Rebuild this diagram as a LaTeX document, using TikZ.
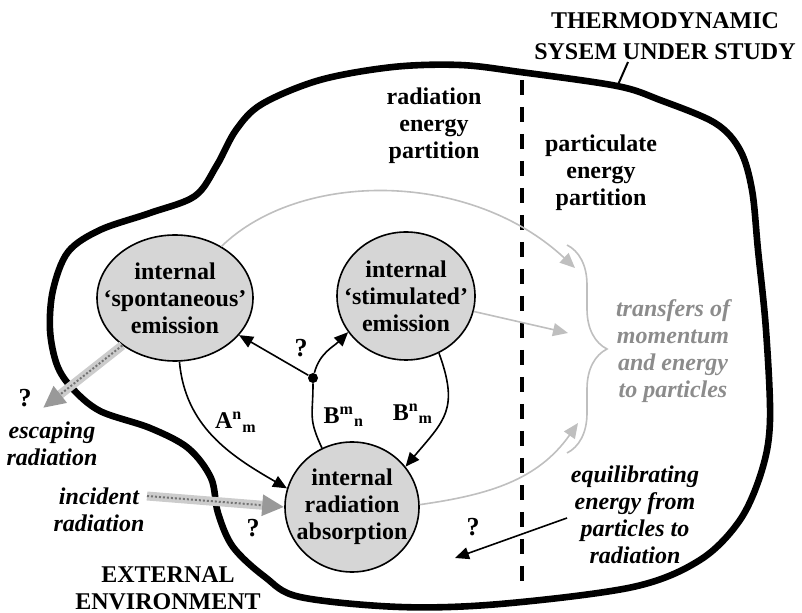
\documentclass[tikz,border=0pt]{standalone}
\usepackage{fontspec}
\setmainfont{Liberation Serif}
\usetikzlibrary{shapes.geometric, positioning, arrows.meta, decorations.pathreplacing}
\tikzset{every node/.style={font=\bfseries\fontsize{12}{13.5}\selectfont, align=center},
  proc/.style={ellipse, draw, thick, fill=black!16, inner sep=0pt},
  blk/.style={-{Triangle[length=7pt,width=6pt]}, line width=0.8pt},
  every edge/.style={draw, blk},
  soft/.style={draw=black!25, line width=0.8pt, -{Triangle[length=7.5pt,width=6.5pt,color=black!25]}},
  fat/.style={line width=4.5pt, draw=black!20, -{Triangle[length=11pt,width=10pt,color=black!40]}},
  fatcore/.style={densely dotted, draw=black!55, line width=1pt, shorten >=11pt},
  note/.style={font=\bfseries\itshape\fontsize{12}{13.5}\selectfont},
  qm/.style={font=\bfseries\fontsize{13}{13}\selectfont}}

\begin{document}
\begin{tikzpicture}[x=0.5pt, y=-0.5pt]
\useasboundingbox (0,0) rectangle (802,613);
% system boundary
\draw[line width=3.3pt, line join=round] plot[smooth cycle, tension=0.55] coordinates {(460,65) (393,67) (320,80) (262,104) (236,130) (217,165) (195,196) (150,213) (100,230) (68,252) (53,290) (50,330) (57,365) (72,388) (100,411) (150,428) (188,448) (211,478) (218,513) (233,547) (265,577) (300,597) (400,607) (500,604) (633,587) (700,560) (740,520) (762,470) (770,420) (766,330) (758,250) (752,190) (740,150) (715,123) (660,100) (617,86) (520,72)};
\node[font=\bfseries\fontsize{12}{15.5}\selectfont] (sys) at (665,36) {THERMODYNAMIC\\SYSEM UNDER STUDY};
\coordinate (lead1) at (628,62);
\coordinate (lead2) at (617,87);
\draw[line width=1pt] (lead1) -- (lead2);
\coordinate (ptop) at (522,80);
\coordinate (pbot) at (522,592);
\draw[line width=1.8pt, dash pattern=on 7.5pt off 6pt] (ptop) -- (pbot);

\node (radpart) at (434,126) {radiation\\energy\\partition};
\node (parpart) at (601,173) {particulate\\energy\\partition};

\node[proc, minimum width=78pt, minimum height=63pt] (spont) at (175,298) {};
\node (spontlbl) at (spont) {internal\\‘spontaneous’\\emission};
\node[proc, minimum width=69pt, minimum height=64pt] (stim) at (406,296) {};
\node (stimlbl) at (stim) {internal\\‘stimulated’\\emission};
\node[proc, minimum width=67pt, minimum height=65pt] (absorb) at (352,507) {};
\node (absorblbl) at (absorb) {internal\\radiation\\absorption};
\node[circle, fill, inner sep=0pt, minimum size=5pt] (fork) at (313,378) {};

% transitions between the processes
\draw (fork) edge (spont)
      (fork) edge[out=75, in=225] (stim.212)
      (spont.-86) edge[out=-85, in=150] node[pos=.38, right=3pt] {A\textsuperscript{n}\textsubscript{m}} (absorb.164)
      (stim.-60) edge[out=-70, in=50, looseness=1.3] node[pos=.5, left=2pt] {B\textsuperscript{n}\textsubscript{m}} (absorb.37);
\draw[line width=0.8pt] (absorb.117) to[out=115, in=-90, looseness=1.3] node[pos=.5, right=2pt] {B\textsuperscript{m}\textsubscript{n}} (fork);
\node[qm] (q1) at (301,348) {?};

% transfers to the particles
\coordinate (t1) at (575,268);
\coordinate (t2) at (568,333);
\coordinate (t3) at (578,423);
\draw[soft] (spont.48) .. controls (300,170) and (470,170) .. (t1);
\draw[soft] (stim) -- (t2);
\draw[soft] (absorb.2) to[out=8, in=235] (t3);
\coordinate (bt) at (567,245);
\coordinate (bb) at (567,453);
\draw[draw=black!25, line width=0.8pt, decorate, decoration={brace, amplitude=20pt}] (bt) -- (bb);
\node[note, text=black!45] (xfer) at (673,351) {transfers of\\momentum\\and energy\\to particles};

% exchanges with the environment
\coordinate (esc) at (43,408);
\draw[fat] (spont.222) -- (esc);
\draw[fatcore] (spont.222) -- (esc);
\coordinate (inc) at (147,496);
\draw[fat] (inc) -- (absorb.west);
\draw[fatcore] (inc) -- (absorb.west);
\node[qm] (q2) at (25,398) {?};
\node[note] (escape) at (52,444) {escaping\\radiation};
\node[note] (incident) at (99,510) {incident\\radiation};
\node[qm] (q3) at (253,528) {?};
\node (extenv) at (168,588) {EXTERNAL\\ENVIRONMENT};

\node[note] (equil) at (635,515) {equilibrating\\energy from\\particles to\\radiation};
\coordinate (eqs) at (567,518);
\coordinate (eqe) at (455,558);
\draw[blk] (eqs) -- (eqe);
\node[qm] (q4) at (473,527) {?};
\end{tikzpicture}
\end{document}
